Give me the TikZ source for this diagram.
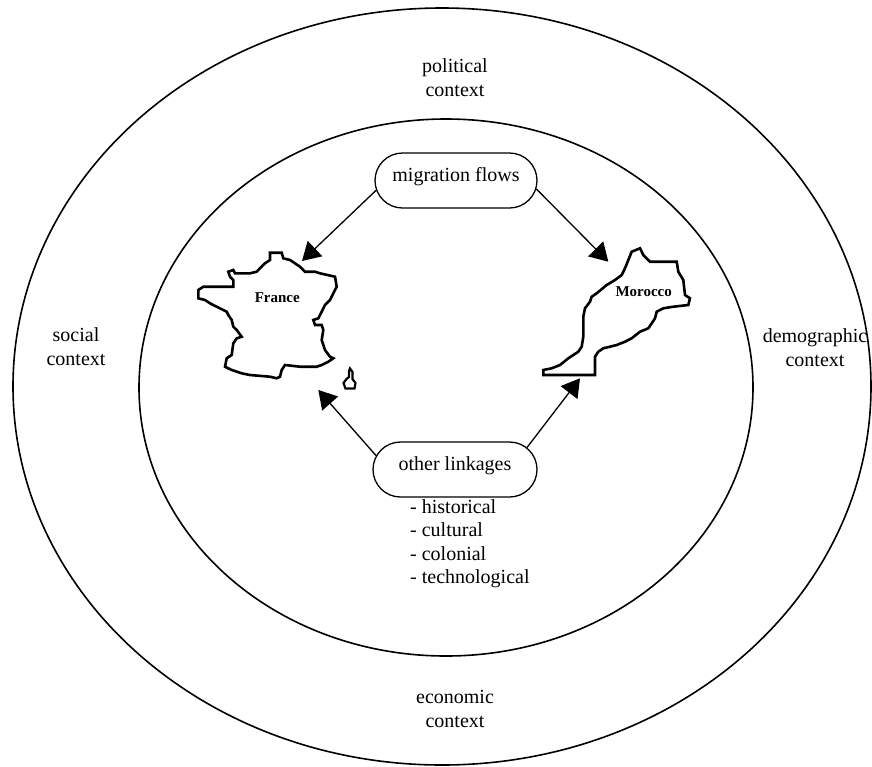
\documentclass[tikz,border=0pt]{standalone}
\usepackage{fontspec}
\setmainfont{Liberation Serif}
\usetikzlibrary{arrows.meta,shapes.misc}
\begin{document}
\begin{tikzpicture}[x=1pt,y=-1pt,
  ring/.style={draw,line width=1.6pt},
  ctx/.style={align=center,anchor=base,font=\fontsize{20}{23.5}\selectfont},
  pill/.style={draw,line width=1.3pt,rounded rectangle,minimum width=162pt,minimum height=55pt,inner sep=0pt,font=\fontsize{20}{24}\selectfont,text height=12pt,text depth=10pt},
  flow/.style={line width=1.3pt,-{Triangle[length=18pt,width=21pt]}},
  mapline/.style={line width=2.6pt,line join=miter},
  maplabel/.style={font=\bfseries\fontsize{15}{18}\selectfont,anchor=base}
]
\useasboundingbox (0,0) rectangle (872,766);
\fill[white] (0,0) rectangle (872,766);

% rings
\draw[ring] (442,386.5) ellipse [x radius=429pt, y radius=378.5pt];
\draw[ring] (446,387.5) ellipse [x radius=307pt, y radius=268.5pt];

% context labels (base anchor = last line baseline)
\node[ctx] (pol) at (455,96) {political\\context};
\node[ctx] (soc) at (76,365) {social\\context};
\node[ctx] (dem) at (815,366) {demographic\\context};
\node[ctx] (eco) at (455,727) {economic\\context};

% France
\draw[mapline] (270,252.7) -- (281.7,252.7) -- (283.3,258.3) -- (290,260) -- (300,266.7) -- (305,271.7) -- (315,271.7) -- (320,273.3) -- (335,276.7) -- (336.7,286.7) -- (333.3,293.3) -- (330,300) -- (325,305) -- (321.7,311.7) -- (318.3,318.3) -- (313.3,320) -- (315,325) -- (321.7,325) -- (323.3,330) -- (321.7,340) -- (325,350) -- (330,356.7) -- (333.3,358.3) -- (328.3,361.7) -- (321.7,365) -- (316.7,366.7) -- (300,366.7) -- (285,365) -- (281.7,370) -- (280,376.7) -- (276.7,378.3) -- (270,376.7) -- (250,375) -- (241.7,373.3) -- (231.7,370) -- (225,366.7) -- (226.7,358.3) -- (231.7,355) -- (233.3,343.3) -- (236.7,338.3) -- (241.7,336.7) -- (236.7,330) -- (233.3,326.7) -- (231.7,320) -- (228.3,315) -- (226.7,311.7) -- (223.3,310) -- (216.7,306.7) -- (210,303.3) -- (205,300) -- (198.3,298.3) -- (198.3,290) -- (203.3,286.7) -- (233.3,286.7) -- (233.3,280) -- (230,276.7) -- (228.3,271.7) -- (233.3,270) -- (235,273.3) -- (250,273.3) -- (256.7,271.7) -- (260,268.3) -- (265,263.3) -- (270,260) -- cycle;
% Corsica
\draw[mapline,line width=2.2pt] (350,368.5) -- (352.5,372) -- (352.5,379) -- (355.5,383) -- (354.5,388.5) -- (345.5,388.5) -- (343.5,383) -- (346.5,379) -- (349,377) -- (349,371) -- cycle;
\node[maplabel] (fr) at (277.3,302.7) {France};

% Morocco
\draw[mapline] (631.7,251.7) -- (640,248.3) -- (643.3,255) -- (650,261.7) -- (676.7,261.7) -- (678.3,271.7) -- (683.3,280) -- (685,295) -- (690,298.3) -- (688.3,305) -- (673.3,306.7) -- (663.3,308.3) -- (656.7,311.7) -- (655,318.3) -- (651.7,323.3) -- (648.3,328.3) -- (640,331.7) -- (631.7,338.3) -- (625,341.7) -- (616.7,345) -- (610,346.7) -- (603.3,348.3) -- (598.3,351.7) -- (595,356.7) -- (595,375) -- (543.3,375) -- (543.3,370) -- (551.7,368.3) -- (560,365) -- (568.3,358.3) -- (578.3,351.7) -- (581.7,346.7) -- (583.3,336.7) -- (583.3,316.7) -- (585,308.3) -- (590,301.7) -- (591.7,296.7) -- (596.7,293.3) -- (606.7,285) -- (615,280) -- (621.7,275) -- (625,268.3) -- (628.3,260) -- cycle;
\node[maplabel] (ma) at (643.7,296.7) {Morocco};

% boxes
\node[pill] (mig) at (456,180.5) {migration flows};
\node[pill,minimum width=164pt] (oth) at (455,469.5) {other linkages};
\node[anchor=base west,align=left,font=\fontsize{20}{23.3}\selectfont,inner sep=0pt] (lst) at (410,583.3) {- historical\\- cultural\\- colonial\\- technological};

% arrow targets
\coordinate (frN) at (302,261);
\coordinate (maN) at (608.3,261.7);
\coordinate (frS) at (318.3,390);
\coordinate (maS) at (580,378.3);

\draw[flow] (mig.187) -- (frN);
\draw[flow] (mig.354.5) -- (maN);
\draw[flow] (oth.170.7) -- (frS);
\draw[flow] (oth.17.3) -- (maS);
\end{tikzpicture}
\end{document}
